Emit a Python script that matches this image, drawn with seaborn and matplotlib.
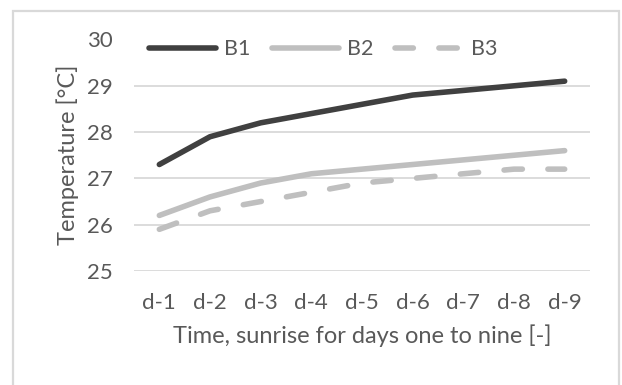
import matplotlib
matplotlib.use("Agg")
import matplotlib.pyplot as plt
import matplotlib.patches as mpatches
import seaborn as sns
import pandas as pd

days = ["d-1", "d-2", "d-3", "d-4", "d-5", "d-6", "d-7", "d-8", "d-9"]
b1 = [27.3, 27.9, 28.2, 28.4, 28.6, 28.8, 28.9, 29.0, 29.1]
b2 = [26.2, 26.6, 26.9, 27.1, 27.2, 27.3, 27.4, 27.5, 27.6]
b3 = [25.9, 26.3, 26.5, 26.7, 26.9, 27.0, 27.1, 27.2, 27.2]
series_names = ["B1", "B2", "B3"]
y_ticks = [25, 26, 27, 28, 29, 30]

df = pd.DataFrame({
    "day": days * 3,
    "temp": b1 + b2 + b3,
    "series": [n for n in series_names for _ in days],
})

sns.set_theme(style="white")
plt.rcParams["font.family"] = ["Lato", "DejaVu Sans"]
text_col = "#595959"

W, H = 622, 385
fig = plt.figure(figsize=(W / 100, H / 100), dpi=100)
ax = fig.add_axes([134 / W, 1 - 271 / H, 456 / W, 231.5 / H])

# outer chart frame
frame = mpatches.Rectangle((13 / W, -0.05), 606 / W, 1.05 - 11 / H,
                           transform=fig.transFigure, fill=False,
                           edgecolor="#d9d9d9", linewidth=1.6, zorder=0)
fig.patches.append(frame)

palette = {"B1": "#404040", "B2": "#bfbfbf", "B3": "#bfbfbf"}
dash_map = {"B1": "", "B2": "", "B3": (3.3, 4.6)}
sns.lineplot(data=df, x="day", y="temp", hue="series", style="series",
             palette=palette, dashes=dash_map, linewidth=4.0, sort=False,
             ax=ax)
for line in ax.lines:
    line.set_solid_capstyle("round")
    line.set_dash_capstyle("round")

ax.set_xlim(-0.5, len(days) - 0.5)
ax.set_ylim(25, 30)
ax.set_yticks(y_ticks)
ax.yaxis.grid(True, color="#d9d9d9", linewidth=1.3)
ax.xaxis.grid(False)
for s in ax.spines.values():
    s.set_visible(False)
ax.tick_params(axis="both", length=0, labelsize=16, colors=text_col)
ax.tick_params(axis="y", pad=15)
ax.tick_params(axis="x", pad=16)
ax.set_xlabel("Time, sunrise for days one to nine [-]", fontsize=17,
              color=text_col, labelpad=8)
ax.set_ylabel("Temperature [°C]", fontsize=17, color=text_col, labelpad=6)

handles, labels = ax.get_legend_handles_labels()
leg = ax.legend(handles, labels, loc="center left",
                bbox_to_anchor=(-0.01, 0.9585), borderaxespad=0, ncol=3,
                frameon=True, facecolor="white", edgecolor="none",
                framealpha=1, fontsize=15.5, handlelength=3.1,
                handletextpad=0.4, columnspacing=1.0, borderpad=0.9)
for t in leg.get_texts():
    t.set_color(text_col)
for lh in leg.get_lines():
    lh.set_linewidth(4.0)
    lh.set_solid_capstyle("round")
    lh.set_dash_capstyle("round")

fig.savefig("out.png", dpi=100, facecolor="white")
